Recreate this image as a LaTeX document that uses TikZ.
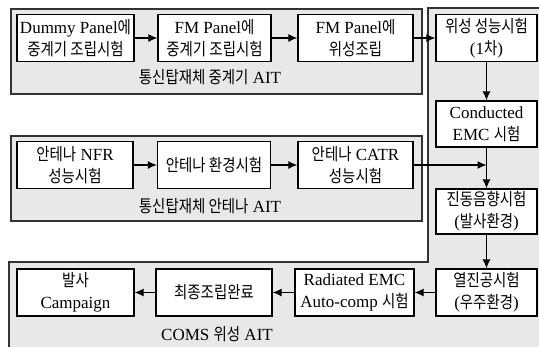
\documentclass[tikz,border=0pt]{standalone}
\usepackage{fontspec}
\setmainfont{Liberation Serif}
\newfontfamily\krfont{Noto Sans CJK KR}[FakeStretch=0.85]
\newcommand{\kr}[1]{{\krfont #1}}
\usetikzlibrary{arrows.meta}
\begin{document}
\begin{tikzpicture}[x=1pt,y=-1pt,
  grp/.style={draw=black!80,fill=black!9,line width=1.2pt},
  box/.style={draw=black,fill=white,line width=1.3pt,minimum height=47pt,inner sep=0.5pt,align=center,font=\fontsize{17}{22}\selectfont},
  lbl/.style={font=\fontsize{17}{22}\selectfont,inner sep=0pt},
  arr/.style={line width=1.2pt,-{Latex[length=9pt,width=8pt]}}]
\useasboundingbox (0,0) rectangle (539,346);
% groups
\draw[grp] (428,8) -- (545,8) -- (545,350) -- (9,350) -- (9,262) -- (428,262) -- cycle;
\draw[grp] (11,9) rectangle (422,94);
\draw[grp] (11,136) rectangle (422,221);
% group 1 boxes
\node[box,minimum width=117pt] (b1) at (75.5,38) {Dummy Panel\kr{에}\\\kr{중계기 조립시험}};
\node[box,minimum width=113pt] (b2) at (214.5,38) {FM Panel\kr{에}\\\kr{중계기 조립시험}};
\node[box,minimum width=115pt] (b3) at (355.5,38) {FM Panel\kr{에}\\\kr{위성조립}};
\node[lbl] (l1) at (210,77) {\kr{통신탑재체 중계기} AIT};
% group 2 boxes
\node[box,minimum width=116pt] (a1) at (75,165) {\kr{안테나} NFR\\\kr{성능시험}};
\node[box,minimum width=113pt] (a2) at (214,165) {\kr{안테나 환경시험}};
\node[box,minimum width=115pt] (a3) at (355.5,165) {\kr{안테나} CATR\\\kr{성능시험}};
\node[lbl] (l2) at (210,206) {\kr{통신탑재체 안테나} AIT};
% right column
\node[box,minimum width=101pt] (c1) at (486.5,38) {\kr{위성 성능시험}\\(1\kr{차})};
\node[box,minimum width=101pt,minimum height=46pt] (c2) at (486.5,124) {Conducted\\EMC \kr{시험}};
\node[box,minimum width=101pt,minimum height=45pt] (c3) at (486.5,211.5) {\kr{진동음향시험}\\(\kr{발사환경})};
\node[box,minimum width=101pt] (c4) at (486.5,292.5) {\kr{열진공시험}\\(\kr{우주환경})};
% bottom row
\node[box,minimum width=119pt] (d1) at (354.5,292.5) {Radiated EMC\\Auto-comp \kr{시험}};
\node[box,minimum width=116pt] (d2) at (214,292.5) {\kr{최종조립완료}};
\node[box,minimum width=117pt] (d3) at (75.5,292.5) {\kr{발사}\\Campaign};
\node[lbl] (l3) at (217,334) {COMS \kr{위성} AIT};
\coordinate (j) at (c2.south |- a3.east);
% arrows
\draw[arr] (b1) -- (b2);
\draw[arr] (b2) -- (b3);
\draw[arr] (b3) -- (c1);
\draw[arr] (a1) -- (a2);
\draw[arr] (a2) -- (a3);
\draw[arr] (a3.east) -- (j);
\draw[arr] (c1) -- (c2);
\draw[arr] (c2) -- (c3);
\draw[arr] (c3) -- (c4);
\draw[arr] (c4) -- (d1);
\draw[arr] (d1) -- (d2);
\draw[arr] (d2) -- (d3);
\end{tikzpicture}
\end{document}
